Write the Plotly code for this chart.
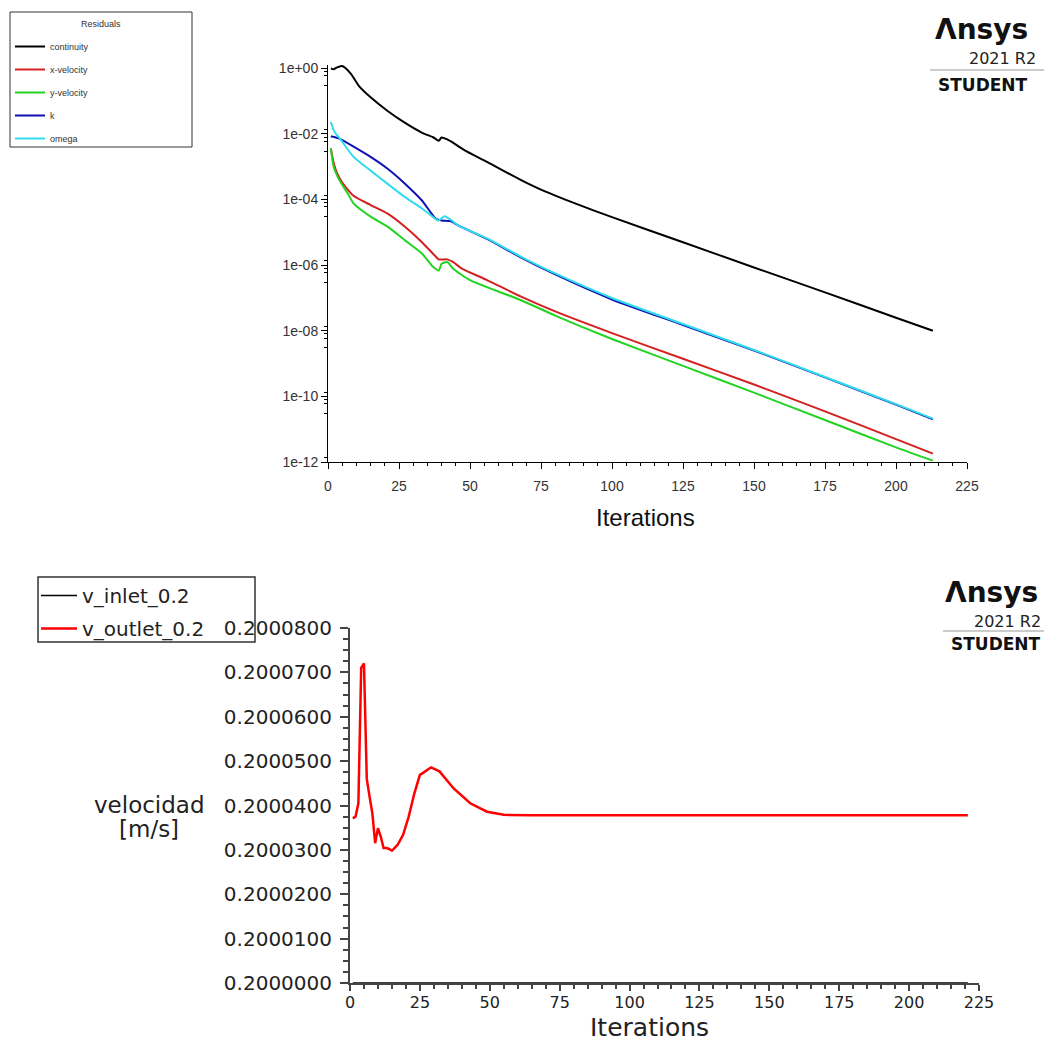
import plotly.graph_objects as go

# ---- Scaled residuals vs iteration ----
continuity_iter = [1, 2, 3, 5, 8, 11, 15, 21, 27, 33, 37, 39, 40, 42, 44, 48, 56, 68, 75, 87, 100, 125, 150, 175, 200, 213]
continuity = [1.0e0, 9.3e-1, 1.05e0, 1.17e0, 6.9e-1, 2.8e-1, 1.3e-1, 5.0e-2, 2.2e-2, 1.1e-2, 7.9e-3, 6.2e-3,
              7.8e-3, 6.8e-3, 5.4e-3, 3.2e-3, 1.4e-3, 3.9e-4, 2.0e-4, 7.6e-5, 2.9e-5, 5.0e-6, 8.5e-7, 1.48e-7,
              2.5e-8, 1.0e-8]

xvel_iter = [1, 2, 3, 5, 9, 15, 21, 27, 33, 38, 39, 42, 44, 47, 56, 68, 80, 100, 125, 150, 175, 200, 213]
xvel = [3.6e-3, 1.3e-3, 7.0e-4, 3.3e-4, 1.3e-4, 6.8e-5, 3.7e-5, 1.5e-5, 5.1e-6, 1.8e-6, 1.5e-6, 1.5e-6,
        1.25e-6, 8.0e-7, 3.5e-7, 1.1e-7, 3.9e-8, 8.5e-9, 1.4e-9, 2.3e-10, 3.5e-11, 5.0e-12, 1.8e-12]

yvel_iter = [1, 2, 4, 7, 9, 15, 21, 27, 33, 37, 39, 40, 42, 44, 50, 68, 80, 100, 125, 150, 175, 200, 213]
yvel = [3.7e-3, 1.0e-3, 3.9e-4, 1.5e-4, 7.6e-5, 3.0e-5, 1.5e-5, 5.8e-6, 2.3e-6, 8.9e-7, 6.8e-7, 1.1e-6,
        1.25e-6, 7.9e-7, 3.5e-7, 8.5e-8, 2.9e-8, 5.6e-9, 8.5e-10, 1.3e-10, 1.9e-11, 2.8e-12, 1.1e-12]

k_iter = [1, 2, 4, 9, 15, 21, 27, 33, 38, 40, 43, 46, 56, 68, 80, 100, 125, 150, 175, 200, 213]
k_res = [8.5e-3, 8.1e-3, 7.2e-3, 4.1e-3, 2.0e-3, 8.7e-4, 3.1e-4, 9.5e-5, 2.6e-5, 2.3e-5, 2.2e-5, 1.6e-5,
         6.3e-6, 1.7e-6, 5.2e-7, 9.0e-8, 1.5e-8, 2.5e-9, 3.8e-10, 5.6e-11, 2.0e-11]

omega_iter = [1, 2, 3, 4, 9, 15, 21, 27, 33, 38, 39, 41, 43, 46, 56, 68, 80, 100, 125, 150, 175, 200, 213]
omega = [2.3e-2, 1.3e-2, 9.5e-3, 7.6e-3, 2.0e-3, 7.6e-4, 3.0e-4, 1.2e-4, 5.4e-5, 2.5e-5, 2.3e-5, 3.1e-5,
         2.5e-5, 1.6e-5, 6.5e-6, 1.8e-6, 5.6e-7, 1.0e-7, 1.6e-8, 2.6e-9, 3.9e-10, 5.8e-11, 2.1e-11]

residual_tickvals = [1e0, 1e-2, 1e-4, 1e-6, 1e-8, 1e-10, 1e-12]
residual_ticktext = ["1e+00", "1e-02", "1e-04", "1e-06", "1e-08", "1e-10", "1e-12"]

# ---- Velocity monitors [m/s] ----
inlet_iter = [1, 221]
v_inlet = [0.2000000, 0.2000000]

outlet_iter = [1, 2, 3, 4, 5, 6, 7, 8, 9, 10, 11, 12, 13, 14, 15, 16, 17, 19, 21, 23, 25, 26, 29, 32,
               37, 43, 49, 55, 65, 221]
v_outlet = [0.2000371, 0.2000375, 0.2000405, 0.2000710, 0.2000720, 0.2000460, 0.2000420, 0.2000382,
            0.2000315, 0.2000349, 0.2000330, 0.2000304, 0.2000304, 0.2000302, 0.2000298, 0.2000305,
            0.2000311, 0.2000334, 0.2000375, 0.2000427, 0.2000469, 0.2000473, 0.2000486, 0.2000477,
            0.2000439, 0.2000405, 0.2000386, 0.2000379, 0.2000378, 0.2000378]

W = H = 1044
fx = lambda px: px / W          # pixel -> paper (x)
fy = lambda py: 1 - py / H      # pixel -> paper (y)

fig = go.Figure()

res_series = [
    ("continuity", continuity_iter, continuity, "#000000"),
    ("x-velocity", xvel_iter, xvel, "#d42020"),
    ("y-velocity", yvel_iter, yvel, "#22d422"),
    ("k", k_iter, k_res, "#1010b4"),
    ("omega", omega_iter, omega, "#30dcec"),
]
for name, xs, ys, col in res_series:
    fig.add_trace(go.Scatter(
        x=xs, y=ys, name=name, mode="lines",
        line=dict(color=col, width=2, shape="spline", smoothing=0.6),
        xaxis="x", yaxis="y", legend="legend", legendgroup=name,
    ))

fig.add_trace(go.Scatter(
    x=inlet_iter, y=v_inlet, name="v_inlet_0.2", mode="lines",
    line=dict(color="#000000", width=1.5),
    xaxis="x2", yaxis="y2", legend="legend2", legendgroup="inlet",
))
fig.add_trace(go.Scatter(
    x=outlet_iter, y=v_outlet, name="v_outlet_0.2", mode="lines",
    line=dict(color="#ff0000", width=2.5),
    xaxis="x2", yaxis="y2", legend="legend2", legendgroup="outlet",
))

# minor tick marks on the log axis around each labelled decade
log_minor = []
for v in residual_tickvals:
    for m in (1.35, 0.8, 0.6, 0.3):
        log_minor.append(v * m)

top_font = dict(family="Liberation Sans, Arial", size=14, color="#333333")
bot_font = dict(family="DejaVu Sans", size=20, color="#222222")
bot_xfont = dict(family="DejaVu Sans", size=16, color="#222222")

fig.update_layout(
    width=W, height=H,
    margin=dict(l=0, r=0, t=0, b=0, autoexpand=False),
    paper_bgcolor="white", plot_bgcolor="white",
    showlegend=True,
    xaxis=dict(
        domain=[fx(328), fx(967)], range=[0, 225], anchor="y", automargin=False,
        tickmode="linear", tick0=0, dtick=25,
        showline=True, linecolor="#000000", linewidth=1,
        ticks="outside", ticklen=6, tickcolor="#000000", tickwidth=1, ticklabelstandoff=5,
        minor=dict(dtick=5, tick0=0, ticks="outside", ticklen=3, tickcolor="#000000"),
        showgrid=False, zeroline=False, tickfont=top_font,
    ),
    yaxis=dict(
        domain=[fy(462), fy(65)], type="log", range=[-12, 0.1], anchor="x", automargin=False,
        tickmode="array", tickvals=residual_tickvals, ticktext=residual_ticktext,
        showline=True, linecolor="#000000", linewidth=1,
        ticks="outside", ticklen=6, tickcolor="#000000",
        minor=dict(tickmode="array", tickvals=log_minor, ticks="outside", ticklen=3, tickcolor="#000000"),
        showgrid=False, zeroline=False, tickfont=top_font,
    ),
    xaxis2=dict(
        domain=[fx(350), fx(979)], range=[0, 225], anchor="y2", automargin=False,
        tickmode="linear", tick0=0, dtick=25,
        showline=True, linecolor="#444444", linewidth=2,
        ticks="outside", ticklen=6, tickcolor="#444444", tickwidth=1.5, ticklabelstandoff=-2,
        minor=dict(dtick=5, tick0=0, ticks="outside", ticklen=4, tickcolor="#444444"),
        showgrid=False, zeroline=False, tickfont=bot_xfont,
    ),
    yaxis2=dict(
        domain=[fy(983), fy(628)], range=[0.2, 0.20008], anchor="x2", automargin=False,
        tickmode="linear", tick0=0.2, dtick=0.00001, tickformat=".7f",
        showline=True, linecolor="#444444", linewidth=2,
        ticks="outside", ticklen=8, tickcolor="#444444", tickwidth=1.5, ticklabelstandoff=4,
        minor=dict(tickmode="linear", tick0=0.2, dtick=0.0000025, ticks="outside", ticklen=5,
                   tickcolor="#444444"),
        showgrid=False, zeroline=False, tickfont=bot_font,
    ),
    legend=dict(
        x=fx(10), y=fy(32), xanchor="left", yanchor="top",
        bgcolor="rgba(255,255,255,0)", borderwidth=0,
        font=dict(family="Liberation Sans, Arial", size=9, color="#333333"),
        traceorder="grouped", tracegroupgap=4, itemwidth=30,
    ),
    legend2=dict(
        x=fx(36), y=fy(576), xanchor="left", yanchor="top",
        bgcolor="rgba(255,255,255,0)", borderwidth=0,
        font=dict(family="DejaVu Sans", size=20, color="#222222"),
        traceorder="grouped", tracegroupgap=4, itemwidth=36,
    ),
)

# axis titles
fig.add_annotation(xref="paper", yref="paper", x=fx(645), y=fy(517), xanchor="center", yanchor="middle",
                   text="Iterations", showarrow=False,
                   font=dict(family="Liberation Sans, Arial", size=24, color="#111111"))
fig.add_annotation(xref="paper", yref="paper", x=fx(649), y=fy(1043), xanchor="center", yanchor="bottom",
                   text="Iterations", showarrow=False, borderpad=0,
                   font=dict(family="DejaVu Sans", size=25, color="#222222"))

# legend frames and heading
fig.add_shape(type="rect", xref="paper", yref="paper", x0=fx(10), x1=fx(192), y0=fy(147), y1=fy(12),
              line=dict(color="#333333", width=1), fillcolor="rgba(0,0,0,0)", layer="above")
fig.add_annotation(xref="paper", yref="paper", x=fx(101), y=fy(24), xanchor="center", yanchor="middle",
                   text="Residuals", showarrow=False,
                   font=dict(family="Liberation Sans, Arial", size=9, color="#333333"))
fig.add_shape(type="rect", xref="paper", yref="paper", x0=fx(38), x1=fx(255), y0=fy(642), y1=fy(577),
              line=dict(color="#333333", width=1.5), fillcolor="rgba(0,0,0,0)", layer="above")

# y-axis label of the velocity monitor (horizontal)
fig.add_annotation(xref="paper", yref="paper", x=fx(149), y=fy(805), xanchor="center", yanchor="middle",
                   text="velocidad", showarrow=False,
                   font=dict(family="DejaVu Sans", size=23, color="#222222"))
fig.add_annotation(xref="paper", yref="paper", x=fx(149), y=fy(829), xanchor="center", yanchor="middle",
                   text="[m/s]", showarrow=False,
                   font=dict(family="DejaVu Sans", size=23, color="#222222"))

# Ansys 2021 R2 STUDENT watermarks
def watermark(x_logo, y_logo, x_ver, y_ver, x_rule, y_rule, x_stud, y_stud):
    fig.add_annotation(xref="paper", yref="paper", x=fx(x_logo), y=fy(y_logo), xanchor="left", yanchor="middle",
                       text="<b>Λnsys</b>", showarrow=False, borderpad=0,
                       font=dict(family="DejaVu Sans", size=28, color="#111111"))
    fig.add_annotation(xref="paper", yref="paper", x=fx(x_ver), y=fy(y_ver), xanchor="left", yanchor="middle",
                       text="2021 R2", showarrow=False, borderpad=0,
                       font=dict(family="DejaVu Sans", size=16, color="#222222"))
    fig.add_shape(type="line", xref="paper", yref="paper", x0=fx(x_rule), x1=1.0, y0=fy(y_rule), y1=fy(y_rule),
                  line=dict(color="#999999", width=1))
    fig.add_annotation(xref="paper", yref="paper", x=fx(x_stud), y=fy(y_stud), xanchor="left", yanchor="middle",
                       text="<b>STUDENT</b>", showarrow=False, borderpad=0,
                       font=dict(family="DejaVu Sans", size=17, color="#111111"))

watermark(934, 29, 968, 58, 930, 70, 937, 85)
watermark(944, 592, 973, 621, 943, 631, 950, 644)

fig.write_html("out.html")
